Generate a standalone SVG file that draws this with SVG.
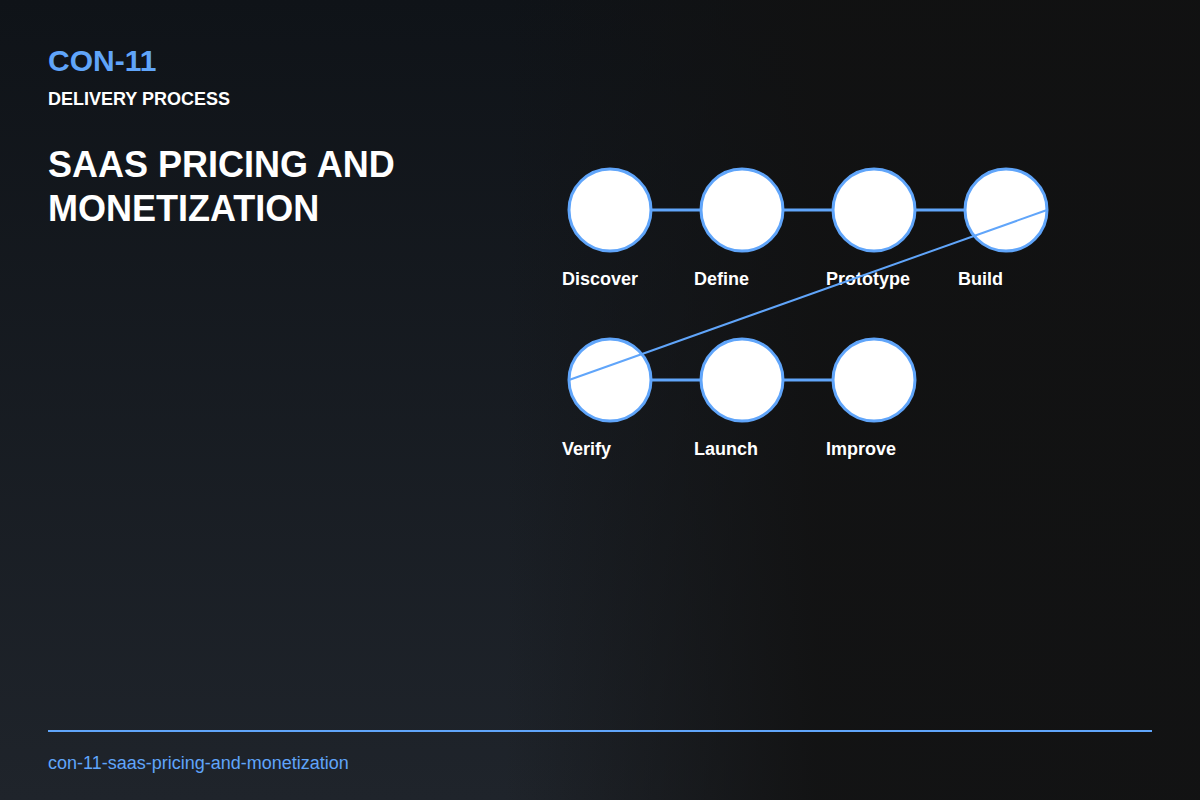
<svg xmlns="http://www.w3.org/2000/svg" width="1200" height="800" viewBox="0 0 1200 800">
<defs>
<linearGradient id="bgV" x1="0" y1="0" x2="0" y2="1">
<stop offset="0" stop-color="#0f1318"/>
<stop offset="1" stop-color="#1f242b"/>
</linearGradient>
<linearGradient id="bgH" x1="0" y1="0" x2="1" y2="0">
<stop offset="0.42" stop-color="#111111" stop-opacity="0"/>
<stop offset="0.68" stop-color="#111111" stop-opacity="0.88"/>
<stop offset="1" stop-color="#111111" stop-opacity="0.92"/>
</linearGradient>
<style>
.node{fill:#ffffff;stroke:#60a5fa;stroke-width:3}
.lbl{font-family:"Liberation Sans",Arial,sans-serif;font-weight:bold;font-size:18px;fill:#ffffff}
.edge{stroke:#60a5fa;stroke-width:3;fill:none}
.diag{stroke:#60a5fa;stroke-width:2;fill:none}
</style>
</defs>
<rect width="1200" height="800" fill="url(#bgV)"/>
<rect width="1200" height="800" fill="url(#bgH)"/>
<g id="header" font-family="Liberation Sans, Arial, sans-serif" font-weight="bold">
<text x="48" y="71" font-size="30" fill="#60a5fa">CON-11</text>
<text x="48" y="105" font-size="18" fill="#ffffff">DELIVERY PROCESS</text>
<text x="48" y="177" font-size="36" fill="#ffffff">SAAS PRICING AND</text>
<text x="48" y="221" font-size="36" fill="#ffffff">MONETIZATION</text>
</g>
<g id="node-discover"><circle class="node" cx="610" cy="210" r="41"/><text class="lbl" x="562" y="285">Discover</text></g>
<g id="node-define"><circle class="node" cx="742" cy="210" r="41"/><text class="lbl" x="694" y="285">Define</text></g>
<g id="node-prototype"><circle class="node" cx="874" cy="210" r="41"/><text class="lbl" x="826" y="285">Prototype</text></g>
<g id="node-build"><circle class="node" cx="1006" cy="210" r="41"/><text class="lbl" x="958" y="285">Build</text></g>
<g id="node-verify"><circle class="node" cx="610" cy="380" r="41"/><text class="lbl" x="562" y="455">Verify</text></g>
<g id="node-launch"><circle class="node" cx="742" cy="380" r="41"/><text class="lbl" x="694" y="455">Launch</text></g>
<g id="node-improve"><circle class="node" cx="874" cy="380" r="41"/><text class="lbl" x="826" y="455">Improve</text></g>
<g id="connectors">
<line class="edge" x1="651" y1="210" x2="701" y2="210"/>
<line class="edge" x1="783" y1="210" x2="833" y2="210"/>
<line class="edge" x1="915" y1="210" x2="965" y2="210"/>
<line class="diag" x1="1047" y1="210" x2="569" y2="380"/>
<line class="edge" x1="651" y1="380" x2="701" y2="380"/>
<line class="edge" x1="783" y1="380" x2="833" y2="380"/>
</g>
<g id="footer">
<line x1="48" y1="731" x2="1152" y2="731" stroke="#60a5fa" stroke-width="2"/>
<text x="48" y="769" font-family="Liberation Sans, Arial, sans-serif" font-size="18" fill="#60a5fa">con-11-saas-pricing-and-monetization</text>
</g>
</svg>
